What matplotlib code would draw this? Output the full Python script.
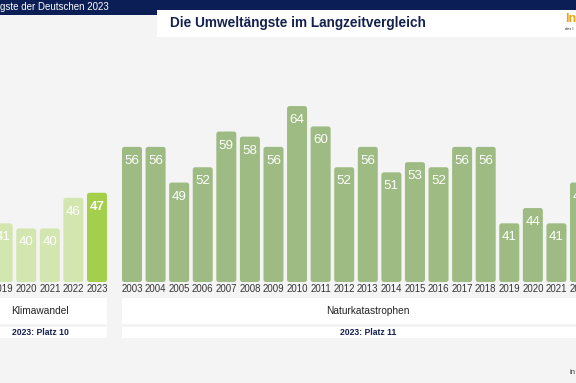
import matplotlib
matplotlib.use("Agg")
import matplotlib.pyplot as plt
from matplotlib.patches import Rectangle, FancyBboxPatch
import numpy as np

plt.rcParams['font.family'] = ['Liberation Sans', 'DejaVu Sans']

# ---- data ----
klima_years = ["2019", "2020", "2021", "2022", "2023"]
klima_values = [41, 40, 40, 46, 47]
natur_years = ["2003", "2004", "2005", "2006", "2007", "2008", "2009", "2010", "2011",
               "2012", "2013", "2014", "2015", "2016", "2017", "2018", "2019", "2020",
               "2021", "2022"]
natur_values = [56, 56, 49, 52, 59, 58, 56, 64, 60, 52, 56, 51, 53, 52, 56, 56, 41, 44, 41, 49]
klima_title = "Klimawandel"
klima_rank = "2023: Platz 10"
natur_title = "Naturkatastrophen"
natur_rank = "2023: Platz 11"
title = "Die Umweltängste im Langzeitvergleich"
band_text = "gste der Deutschen 2023"

W, H = 576, 383
fig = plt.figure(figsize=(W / 100, H / 100), dpi=100)
BG = "#f4f4f4"
fig.patch.set_facecolor(BG)
NAVY = "#0b1e55"

def fx(px):
    return px / W

def fy(py):
    return 1 - py / H

# ---- top band & title box ----
fig.patches.append(Rectangle((fx(0), fy(15)), fx(158), 15 / H, transform=fig.transFigure,
                             facecolor=NAVY, edgecolor="none", zorder=0))
fig.patches.append(Rectangle((fx(0), fy(10)), 1, 10 / H, transform=fig.transFigure,
                             facecolor=NAVY, edgecolor="none", zorder=0))
fig.patches.append(Rectangle((fx(157), fy(37)), fx(W - 157), 27 / H, transform=fig.transFigure,
                             facecolor="white", edgecolor="none", zorder=0))
fig.text(fx(0), fy(7), band_text, color="white", fontsize=7.0, ha="left", va="center")
fig.text(fx(170), fy(23.5), title, color="#14214f", fontsize=9.8, fontweight="bold",
         ha="left", va="center")
fig.text(fx(565), fy(19), "In", color="#eaa21c", fontsize=9, fontweight="bold",
         ha="left", va="center")
fig.text(fx(565), fy(29), "der I", color="#333333", fontsize=3.2, ha="left", va="center")
fig.text(fx(570), fy(372), "in", color="#333333", fontsize=5.5, ha="left", va="center")

# ---- bars ----
ax = fig.add_axes([0, 0, 1, 1])
ax.set_facecolor("none")
ax.set_axis_off()
pitch = 23.58  # px per bar slot
base = 29.5
pxu = 5.1      # px per value unit
x0_px = 97.0   # centre of last Klimawandel bar
ax.set_xlim((0 - x0_px) / pitch, (W - x0_px) / pitch)
ax.set_ylim(base - (H - 282) / pxu, base + 282 / pxu)

kpos = np.arange(len(klima_values)) - (len(klima_values) - 1)
npos = (132 - x0_px) / pitch + np.arange(len(natur_values))
bw = 20 / pitch

kcolors = ["#d3e6b0"] * (len(klima_values) - 1) + ["#a3cf4a"]
bars_k = ax.bar(kpos, np.array(klima_values) - base, bottom=base, width=bw, color=kcolors, zorder=2)
bars_n = ax.bar(npos, np.array(natur_values) - base, bottom=base, width=bw, color="#9dbb83", zorder=2)

# round the bar corners
r_px = 2.5
for rect in list(bars_k) + list(bars_n):
    x, y = rect.get_xy()
    w, h = rect.get_width(), rect.get_height()
    fb = FancyBboxPatch((x, y), w, h,
                        boxstyle=f"round,pad=0,rounding_size={r_px / pitch}",
                        mutation_aspect=pitch / pxu,
                        facecolor=rect.get_facecolor(), edgecolor="none", zorder=2)
    rect.set_visible(False)
    ax.add_patch(fb)

lab_off = 14 / pxu
for i, (p, v) in enumerate(zip(kpos, klima_values)):
    last = i == len(klima_values) - 1
    ax.text(p, v - lab_off, str(v), color="white", fontsize=9.6,
            fontweight="bold" if last else "normal", ha="center", va="center", zorder=3)
for p, v in zip(npos, natur_values):
    ax.text(p, v - lab_off, str(v), color="white", fontsize=9.6, ha="center", va="center", zorder=3)

tick_y = base - 7.5 / pxu
for p, y in zip(kpos, klima_years):
    ax.text(p, tick_y, y, color="#333333", fontsize=6.9, ha="center", va="center")
for p, y in zip(npos, natur_years):
    ax.text(p, tick_y, y, color="#333333", fontsize=6.9, ha="center", va="center")

# ---- category boxes ----
def boxes(left_px, right_px, name, rank):
    fig.patches.append(Rectangle((fx(left_px), fy(324)), fx(right_px - left_px), 26 / H,
                                 transform=fig.transFigure, facecolor="white",
                                 edgecolor="none", zorder=0))
    fig.patches.append(Rectangle((fx(left_px), fy(338)), fx(right_px - left_px), 11 / H,
                                 transform=fig.transFigure, facecolor="white",
                                 edgecolor="none", zorder=0))
    c = (left_px + right_px) / 2
    fig.text(fx(c), fy(311), name, color="#222222", fontsize=7.3, ha="center", va="center")
    fig.text(fx(c), fy(332.3), rank, color="#14214f", fontsize=6.2, fontweight="bold",
             ha="center", va="center")

boxes(-27, (kpos[-1] + 0.5 * bw) * pitch + x0_px, klima_title, klima_rank)
boxes((npos[0] - 0.5 * bw) * pitch + x0_px, (npos[-1] + 1 + 0.5 * bw) * pitch + x0_px,
      natur_title, natur_rank)

fig.savefig("out.png", dpi=100, facecolor=fig.get_facecolor())
